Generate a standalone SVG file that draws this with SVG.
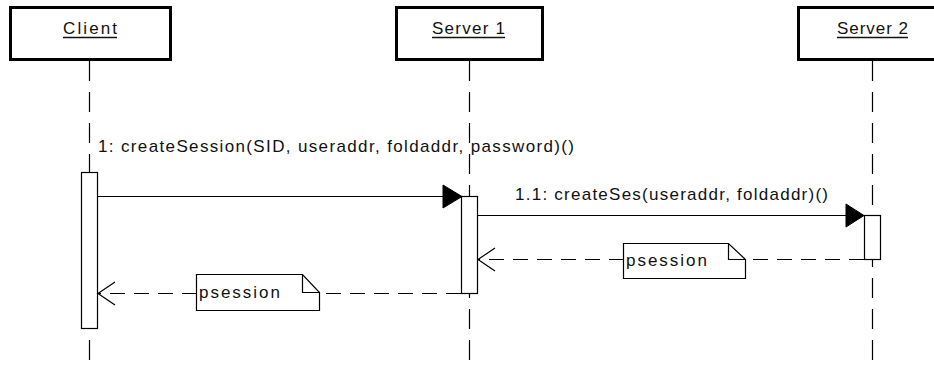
<svg xmlns="http://www.w3.org/2000/svg" width="934" height="365" viewBox="0 0 934 365">
<style>
.obj{fill:#fff;stroke:#000;stroke-width:3}
.t{font-family:"Liberation Sans",Arial,sans-serif;font-size:17px;fill:#111}
.ul{stroke:#111;stroke-width:1.3}
.life{stroke:#000;stroke-width:1.2;stroke-dasharray:20 11;fill:none}
.act{fill:#fff;stroke:#000;stroke-width:1.2}
.msg{stroke:#000;stroke-width:1.2;fill:none}
.ret{stroke:#000;stroke-width:1.2;fill:none;stroke-dasharray:15 9}
.head{fill:#000;stroke:#000;stroke-width:1}
.open{fill:none;stroke:#000;stroke-width:1.2}
.note{fill:#fff;stroke:#000;stroke-width:1.2}
</style>
<rect width="934" height="365" fill="#fff"/>
<g id="lifelines">
<line class="life" x1="89.5" y1="61" x2="89.5" y2="365"/>
<line class="life" x1="469.5" y1="61" x2="469.5" y2="365"/>
<line class="life" x1="872.5" y1="61" x2="872.5" y2="365"/>
</g>
<g id="client">
<rect class="obj" x="10.5" y="7.5" width="160" height="52"/>
<text class="t" x="63" y="34" textLength="54" lengthAdjust="spacing">Client</text>
<line class="ul" x1="63" y1="37.5" x2="117" y2="37.5"/>
<rect class="act" x="81.5" y="172.5" width="16" height="156"/>
</g>
<g id="server1">
<rect class="obj" x="396.5" y="7.5" width="146" height="52"/>
<text class="t" x="432" y="34" textLength="73" lengthAdjust="spacing">Server 1</text>
<line class="ul" x1="432" y1="37.5" x2="505" y2="37.5"/>
<rect class="act" x="461.5" y="196.5" width="16" height="97"/>
</g>
<g id="server2">
<rect class="obj" x="798.5" y="7.5" width="150" height="52"/>
<text class="t" x="837" y="34" textLength="71" lengthAdjust="spacing">Server 2</text>
<line class="ul" x1="837" y1="37.5" x2="908" y2="37.5"/>
<rect class="act" x="864.5" y="215.5" width="16" height="44"/>
</g>
<g id="connectors">
<line class="msg" x1="97.5" y1="196.5" x2="445" y2="196.5"/>
<polygon class="head" points="443,185 462,196.5 443,208"/>
<text class="t" x="98" y="152" textLength="476" lengthAdjust="spacing">1: createSession(SID, useraddr, foldaddr, password)()</text>
<line class="msg" x1="477.5" y1="215.5" x2="848" y2="215.5"/>
<polygon class="head" points="846,204 864,215.5 846,227"/>
<text class="t" x="515" y="200" textLength="313" lengthAdjust="spacing">1.1: createSes(useraddr, foldaddr)()</text>
<line class="ret" x1="864" y1="259.5" x2="478" y2="259.5"/>
<polyline class="open" points="495,248 478,259.5 495,271"/>
<line class="ret" x1="461" y1="293.5" x2="98" y2="293.5"/>
<polyline class="open" points="115,282 98,293.5 115,305"/>
</g>
<g id="note1">
<path class="note" d="M623.5,243.5 H728.5 L745.5,259.5 V278.5 H623.5 Z M728.5,243.5 V259.5 H745.5"/>
<text class="t" x="626" y="266" textLength="81" lengthAdjust="spacing">psession</text>
</g>
<g id="note2">
<path class="note" d="M196.5,274.5 H302.5 L319.5,292.5 V310.5 H196.5 Z M302.5,274.5 V292.5 H319.5"/>
<text class="t" x="199" y="298" textLength="81" lengthAdjust="spacing">psession</text>
</g>
</svg>
